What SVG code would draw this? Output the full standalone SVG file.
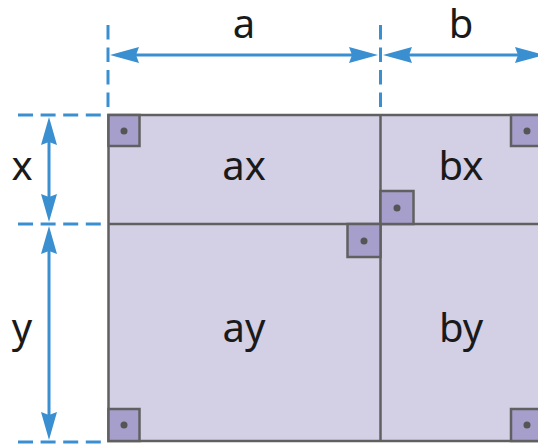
<svg xmlns="http://www.w3.org/2000/svg" width="538" height="446" viewBox="0 0 538 446">
<style>
.dim{stroke:#3a8fd1;stroke-width:3;fill:none}
.dash{stroke:#3a8fd1;stroke-width:3;fill:none}
.cell{fill:#d3cfe5;stroke:#606060;stroke-width:2.5}
.ln{stroke:#606060;stroke-width:2.5;fill:none}
.sq{fill:#a69ecb;stroke:#606060;stroke-width:2.5}
.dot{fill:#555}
.lbl{font-family:"Noto Sans","Open Sans",sans-serif;font-size:40px;fill:#1a1a1a;text-anchor:middle}
.ah{fill:#3a8fd1}
</style>
<g id="rect">
<rect class="cell" x="108.5" y="115" width="440" height="326"/>
<line class="ln" x1="380.5" y1="115" x2="380.5" y2="441"/>
<line class="ln" x1="108.5" y1="224" x2="548" y2="224"/>
</g>
<g id="squares">
<rect class="sq" x="108.5" y="115" width="31" height="31"/><circle class="dot" cx="124" cy="131" r="3.5"/>
<rect class="sq" x="511" y="115" width="31" height="31"/><circle class="dot" cx="527" cy="131" r="3.5"/>
<rect class="sq" x="380.5" y="191" width="33" height="33"/><circle class="dot" cx="397" cy="208" r="3.5"/>
<rect class="sq" x="347.5" y="224" width="33" height="33"/><circle class="dot" cx="364" cy="241" r="3.5"/>
<rect class="sq" x="108.5" y="409" width="31" height="32"/><circle class="dot" cx="124" cy="425" r="3.5"/>
<rect class="sq" x="511" y="409" width="31" height="32"/><circle class="dot" cx="527" cy="425" r="3.5"/>
</g>
<g id="connectors">
<line class="dash" x1="108" y1="25" x2="108" y2="108" stroke-dasharray="14.5 8"/>
<line class="dash" x1="380.5" y1="25" x2="380.5" y2="108" stroke-dasharray="14.5 8"/>
<line class="dash" x1="18" y1="115" x2="101" y2="115" stroke-dasharray="15 7.6"/>
<line class="dash" x1="18" y1="224" x2="101" y2="224" stroke-dasharray="15 7.6"/>
<line class="dash" x1="18" y1="442" x2="101" y2="442" stroke-dasharray="15 7.6"/>
<line class="dim" x1="130" y1="55" x2="358" y2="55"/>
<polygon class="ah" points="110,55 139,47 136,55 139,63"/>
<polygon class="ah" points="378,55 349,47 352,55 349,63"/>
<line class="dim" x1="404" y1="55" x2="525" y2="55"/>
<polygon class="ah" points="383,55 412,47 409,55 412,63"/>
<polygon class="ah" points="544,55 515,47 518,55 515,63"/>
<line class="dim" x1="49" y1="137" x2="49" y2="202"/>
<polygon class="ah" points="49,117 41,145 49,142 57,145"/>
<polygon class="ah" points="49,222 41,194 49,197 57,194"/>
<line class="dim" x1="49" y1="246" x2="49" y2="420"/>
<polygon class="ah" points="49,226 41,254 49,251 57,254"/>
<polygon class="ah" points="49,440 41,412 49,415 57,412"/>
</g>
<g id="labels">
<text class="lbl" x="244" y="38">a</text>
<text class="lbl" x="461" y="38">b</text>
<text class="lbl" x="22" y="180">x</text>
<text class="lbl" x="22" y="342">y</text>
<text class="lbl" x="244" y="180">ax</text>
<text class="lbl" x="461" y="180">bx</text>
<text class="lbl" x="244" y="342">ay</text>
<text class="lbl" x="461" y="342">by</text>
</g>
</svg>
